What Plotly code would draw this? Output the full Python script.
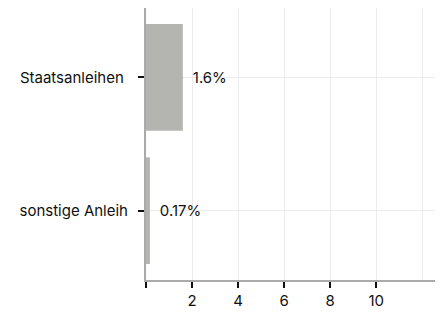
import plotly.graph_objects as go

categories = ["Staatsanleihen\u00a0", "sonstige Anleih"]
values = [1.6, 0.17]
labels = ["1.6%", "0.17%"]
tick_vals = [0, 2, 4, 6, 8, 10]
tick_text = ["", "2", "4", "6", "8", "10"]

fig = go.Figure(go.Bar(
    x=values, y=categories, orientation="h",
    marker=dict(color="#b4b4b0", line=dict(width=0)),
    width=0.8,
    text=labels, textposition="outside",
    texttemplate="\u00a0\u2009%{text}",
    textfont=dict(family="Inter", size=15, color="#111"),
    cliponaxis=False,
))

fig.update_layout(
    width=435, height=304,
    margin=dict(l=138, r=7, t=0, b=32),
    plot_bgcolor="white", paper_bgcolor="white",
    font=dict(family="Inter", size=15, color="#111"),
    showlegend=False,
    bargap=0.2,
    uniformtext=dict(minsize=15, mode="show"),
)
fig.update_xaxes(
    automargin=False,
    range=[0, 12.6],
    tickvals=tick_vals, ticktext=tick_text,
    showgrid=True, gridcolor="#ececec", gridwidth=1,
    zeroline=False,
    showline=True, linecolor="#aaaaaa", linewidth=2,
    ticks="outside", ticklen=6, tickwidth=2, tickcolor="#111",
    minor=dict(tickvals=[12], showgrid=True, gridcolor="#ececec", ticks=""),
)
fig.update_yaxes(
    automargin=False,
    autorange=False,
    range=[1.52, -0.52],
    showgrid=True, gridcolor="#ececec", gridwidth=1,
    showline=True, linecolor="#aaaaaa", linewidth=2,
    ticks="outside", ticklen=6, tickwidth=2, tickcolor="#111",
    ticklabelstandoff=7,
)

fig.write_html("out.html")
